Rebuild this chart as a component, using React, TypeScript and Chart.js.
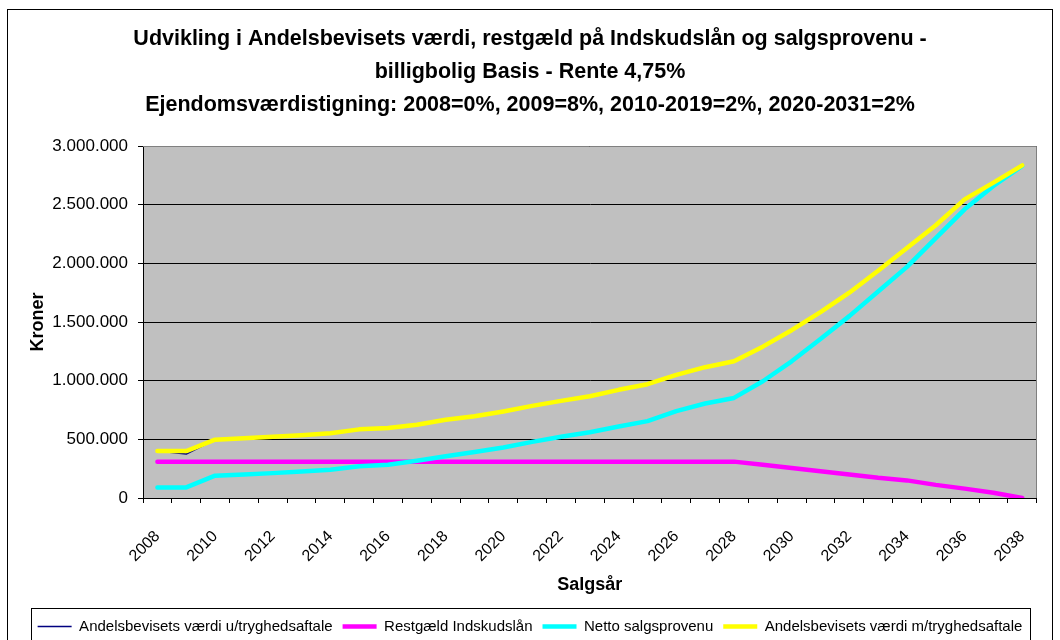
import React, { useEffect, useRef } from 'react';
import { Chart, registerables } from 'chart.js';

Chart.register(...registerables);

const years = [
  '2008', '2009', '2010', '2011', '2012', '2013', '2014', '2015', '2016', '2017',
  '2018', '2019', '2020', '2021', '2022', '2023', '2024', '2025', '2026', '2027',
  '2028', '2029', '2030', '2031', '2032', '2033', '2034', '2035', '2036', '2037', '2038',
];

const vaerdiUden = [
  400000, 375000, 497000, 510000, 522000, 535000, 552000, 585000, 597000, 625000,
  667000, 696000, 738000, 785000, 828000, 867000, 922000, 970000, 1050000, 1115000,
  1165000, 1290000, 1430000, 1585000, 1750000, 1937000, 2130000, 2325000, 2545000, 2688000, 2835000,
];

const restgaeld = [
  310000, 310000, 310000, 310000, 310000, 310000, 310000, 310000, 310000, 310000,
  310000, 310000, 310000, 310000, 310000, 310000, 310000, 310000, 310000, 310000,
  310000, 284000, 256000, 228000, 200000, 172000, 150000, 112000, 80000, 45000, 0,
];

const netto = [
  90000, 90000, 190000, 200000, 212000, 225000, 241000, 270000, 284000, 318000,
  355000, 392000, 430000, 478000, 522000, 560000, 610000, 655000, 740000, 805000,
  853000, 995000, 1165000, 1355000, 1550000, 1760000, 1970000, 2215000, 2460000, 2660000, 2830000,
];

const vaerdiMed = [
  400000, 400000, 497000, 510000, 522000, 535000, 552000, 585000, 597000, 625000,
  667000, 696000, 738000, 785000, 828000, 867000, 922000, 970000, 1050000, 1115000,
  1165000, 1290000, 1430000, 1585000, 1750000, 1937000, 2130000, 2325000, 2545000, 2688000, 2835000,
];

const seriesNames = [
  'Andelsbevisets værdi u/tryghedsaftale',
  'Restgæld Indskudslån',
  'Netto salgsprovenu',
  'Andelsbevisets værdi m/tryghedsaftale',
];

const titleLines = [
  'Udvikling i Andelsbevisets værdi, restgæld på Indskudslån og salgsprovenu -',
  'billigbolig Basis - Rente 4,75%',
  'Ejendomsværdistigning: 2008=0%, 2009=8%, 2010-2019=2%, 2020-2031=2%',
];

const yAxisTitle = 'Kroner';
const xAxisTitle = 'Salgsår';

const SANS = "'Liberation Sans', Arial, sans-serif";

const fmt = (v: number) => String(Math.round(v)).replace(/\B(?=(\d{3})+(?!\d))/g, '.');

const framePlugin = {
  id: 'framePlugin',
  beforeDraw(chart: any) {
    const { ctx, chartArea: a, width, height } = chart;
    ctx.save();
    ctx.fillStyle = '#ffffff';
    ctx.fillRect(0, 0, width, height);
    ctx.fillStyle = '#c0c0c0';
    ctx.fillRect(a.left, a.top, a.right - a.left, a.bottom - a.top);
    ctx.strokeStyle = '#000000';
    ctx.lineWidth = 1;
    ctx.strokeRect(7.5, 9.5, width - 15, height);
    ctx.restore();
  },
  beforeDatasetsDraw(chart: any) {
    const { ctx, chartArea: a } = chart;
    ctx.save();
    ctx.strokeStyle = '#808080';
    ctx.lineWidth = 1;
    ctx.beginPath();
    ctx.moveTo(a.left, Math.round(a.top) + 0.5);
    ctx.lineTo(Math.round(a.right) - 0.5, Math.round(a.top) + 0.5);
    ctx.lineTo(Math.round(a.right) - 0.5, a.bottom);
    ctx.stroke();
    ctx.restore();
  },
  afterDraw(chart: any) {
    const lg = chart.legend;
    if (!lg || !lg.legendHitBoxes || !lg.legendHitBoxes.length) return;
    const boxes = lg.legendHitBoxes;
    let minX = Infinity;
    let maxX = -Infinity;
    for (const b of boxes) {
      minX = Math.min(minX, b.left);
      maxX = Math.max(maxX, b.left + b.width);
    }
    const { ctx } = chart;
    ctx.save();
    ctx.strokeStyle = '#000000';
    ctx.lineWidth = 1;
    ctx.strokeRect(Math.round(minX - 7) + 0.5, Math.round(lg.top - 1) + 0.5, Math.round(maxX - minX + 14), 60);
    ctx.restore();
  },
};

export default function App() {
  const ref = useRef<HTMLCanvasElement | null>(null);

  useEffect(() => {
    if (!ref.current) return;
    const lineDefaults = {
      pointRadius: 0,
      pointHoverRadius: 0,
      tension: 0,
      borderCapStyle: 'round' as const,
      borderJoinStyle: 'round' as const,
      fill: false,
    };
    const chart = new Chart(ref.current, {
      type: 'line',
      data: {
        labels: years,
        datasets: [
          { ...lineDefaults, label: seriesNames[0], data: vaerdiUden, borderColor: '#000080', backgroundColor: '#000080', borderWidth: 1.5, order: 3 },
          { ...lineDefaults, label: seriesNames[1], data: restgaeld, borderColor: '#ff00ff', backgroundColor: '#ff00ff', borderWidth: 4.5, order: 2 },
          { ...lineDefaults, label: seriesNames[2], data: netto, borderColor: '#00ffff', backgroundColor: '#00ffff', borderWidth: 4.5, order: 1 },
          { ...lineDefaults, label: seriesNames[3], data: vaerdiMed, borderColor: '#ffff00', backgroundColor: '#ffff00', borderWidth: 4.5, order: 0 },
        ],
      },
      options: {
        responsive: false,
        animation: false,
        devicePixelRatio: 1,
        layout: { padding: { left: 10, right: 10, top: 0, bottom: -4 } },
        plugins: {
          title: {
            display: true,
            text: titleLines,
            color: '#000',
            font: { family: SANS, size: 21.5, weight: 'bold', lineHeight: 1.535 },
            padding: { top: 23, bottom: 24 },
          },
          legend: {
            position: 'bottom',
            labels: {
              color: '#000',
              font: { family: SANS, size: 15 },
              usePointStyle: true,
              pointStyle: 'line',
              pointStyleWidth: 34,
              boxHeight: 15,
              padding: 10,
              sort: (a: any, b: any) => a.datasetIndex - b.datasetIndex,
            },
          },
          tooltip: { enabled: false },
        },
        scales: {
          x: {
            type: 'category',
            offset: true,
            grid: { offset: true, drawOnChartArea: false, drawTicks: true, tickLength: 5, color: '#000' },
            border: { display: true, color: '#000', width: 1 },
            ticks: {
              autoSkip: false,
              maxRotation: 45,
              minRotation: 45,
              padding: 24,
              color: '#000',
              font: { family: SANS, size: 16 },
              callback: (_v: any, i: number) => (i % 2 === 0 ? years[i] : ''),
            },
            title: {
              display: true,
              text: xAxisTitle,
              color: '#000',
              font: { family: SANS, size: 18, weight: 'bold' },
              padding: { top: 0, bottom: 13 },
            },
            afterFit: (scale: any) => { scale.height = 111; },
          },
          y: {
            min: 0,
            max: 3000000,
            grid: { color: '#000', lineWidth: 1, drawTicks: true, tickLength: 5 },
            border: { display: true, color: '#000', width: 1 },
            ticks: {
              stepSize: 500000,
              padding: 10,
              color: '#000',
              font: { family: SANS, size: 17 },
              callback: (v: any) => fmt(Number(v)),
            },
            title: {
              display: true,
              text: yAxisTitle,
              color: '#000',
              font: { family: SANS, size: 18, weight: 'bold' },
              padding: { top: 17, bottom: 0 },
            },
            afterFit: (scale: any) => { scale.width = 133; },
          },
        },
      },
      plugins: [framePlugin],
    });
    return () => chart.destroy();
  }, []);

  return (
    <div style={{ position: 'fixed', left: 0, top: 0, width: 1060, height: 640, background: '#fff' }}>
      <canvas ref={ref} width={1060} height={640} style={{ display: 'block', width: 1060, height: 640 }} />
    </div>
  );
}
